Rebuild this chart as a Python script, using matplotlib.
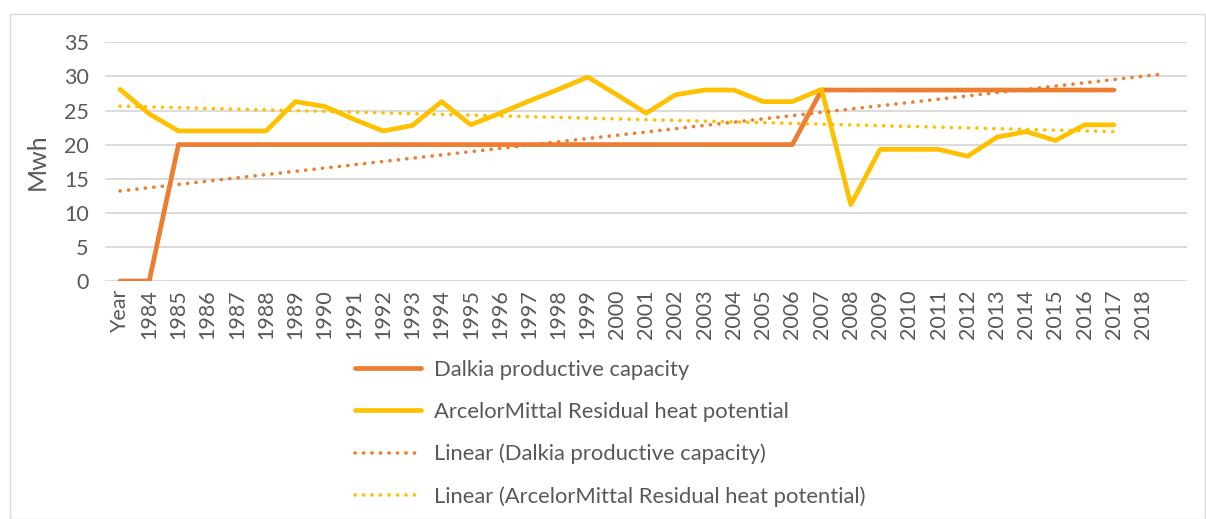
import matplotlib
matplotlib.use("Agg")
import matplotlib.pyplot as plt
from matplotlib.patches import Rectangle
import numpy as np

# ================> Part Data
categories = ["Year"] + [str(y) for y in range(1984, 2019)] + [""]

dalkia = [0, 0] + [20] * 22 + [28] * 11   # Year .. 2017
arcelor = [28.1, 24.5, 22, 22, 22, 22, 26.3, 25.6, 23.7, 22, 22.8, 26.3,
           22.9, 24.6, 26.4, 28.1, 29.9, 27.3, 24.6, 27.3, 28, 28, 26.3,
           26.3, 28.1, 11.2, 19.3, 19.3, 19.3, 18.3, 21.1, 21.9, 20.6,
           22.9, 22.9]

labels = ["Dalkia productive capacity",
          "ArcelorMittal Residual heat potential",
          "Linear (Dalkia productive capacity)",
          "Linear (ArcelorMittal Residual heat potential)"]

# ================> Part Style
_ORANGE = "#ED7D31"
_YELLOW = "#FFC000"
_TEXT = "#595959"
_GRID = "#D9D9D9"
_DOTS = (0, (0.05, 2.3))

plt.rcParams["font.family"] = ["Lato", "DejaVu Sans"]

fig = plt.figure(figsize=(12.06, 5.19), dpi=100)
fig.patches.append(Rectangle((10 / 1206, 0), 1 - 10 / 1206 - 1 / 1206, 1 - 14 / 519,
                             transform=fig.transFigure, fill=False,
                             edgecolor="#D9D9D9", linewidth=1.0))

ax = fig.add_axes([105.4 / 1206, 1 - 281 / 519, (1187 - 105.4) / 1206, (281 - 42.3) / 519])

x_d = np.arange(len(dalkia))
x_a = np.arange(len(arcelor))

ax.plot(x_d, dalkia, color=_ORANGE, lw=3.4, solid_capstyle="round",
        solid_joinstyle="round", label=labels[0], zorder=3)
ax.plot(x_a, arcelor, color=_YELLOW, lw=3.4, solid_capstyle="round",
        solid_joinstyle="round", label=labels[1], zorder=3)

# linear trendlines (least squares on category index)
k_d, b_d = np.polyfit(x_d, dalkia, 1)
xt_d = np.array([0, len(dalkia) - 1 + 1.7])
ax.plot(xt_d, k_d * xt_d + b_d, color=_ORANGE, lw=2.6, ls=_DOTS,
        dash_capstyle="round", label=labels[2], zorder=4)

k_a, b_a = np.polyfit(x_a, arcelor, 1)
xt_a = np.array([0, len(arcelor) - 1])
ax.plot(xt_a, k_a * xt_a + b_a, color=_YELLOW, lw=2.6, ls=_DOTS,
        dash_capstyle="round", label=labels[3], zorder=4)

ax.set_xlim(-0.5, len(categories) - 0.5)
ax.set_ylim(0, 35)
ax.set_yticks(np.arange(0, 36, 5))
ax.set_xticks(np.arange(len(categories)))
ax.set_xticklabels(categories, rotation=90)
ax.tick_params(axis="both", length=0, labelsize=15.5, colors=_TEXT)
ax.tick_params(axis="y", pad=12)
ax.tick_params(axis="x", pad=6)
ax.grid(axis="y", color=_GRID, lw=1.3)
ax.set_axisbelow(True)
for s in ax.spines.values():
    s.set_visible(False)

fig.text(37 / 1206, 1 - 162 / 519, "Mwh", rotation=90, ha="center", va="center",
         fontsize=18, color=_TEXT)

fig.legend(loc="upper left", bbox_to_anchor=(346 / 1206, 1 - 351 / 519),
           frameon=False, fontsize=15.8, labelcolor=_TEXT, handlelength=3.0,
           handletextpad=0.6, labelspacing=1.0, borderaxespad=0)

fig.savefig("out.png", dpi=100)
